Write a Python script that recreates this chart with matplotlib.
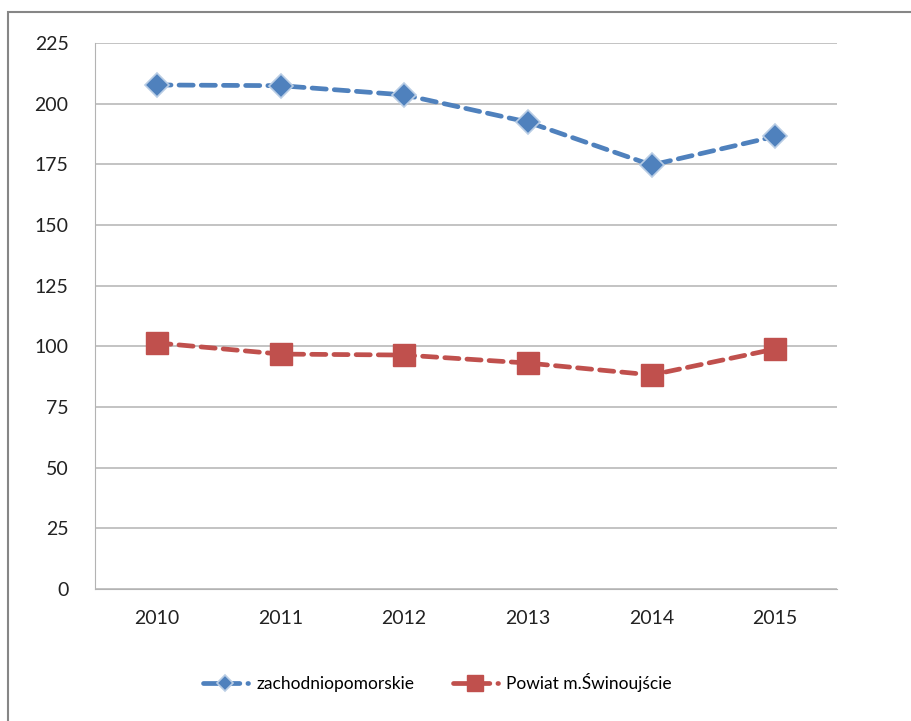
import matplotlib
matplotlib.use('Agg')
import matplotlib.pyplot as plt
from matplotlib.patches import Rectangle

# data
years = ['2010', '2011', '2012', '2013', '2014', '2015']
zachodniopomorskie = [207.7, 207.4, 203.6, 192.4, 174.7, 186.5]
swinoujscie = [101.4, 96.8, 96.4, 93.1, 88.2, 98.9]
y_ticks = [0, 25, 50, 75, 100, 125, 150, 175, 200, 225]

plt.rcParams['font.family'] = ['Lato', 'DejaVu Sans']

fig = plt.figure(figsize=(9.11, 7.21), dpi=100)
ax = fig.add_axes([0.1043, 0.1831, 0.8145, 0.7573])

# outer frame of the chart area
fig.patches.append(Rectangle((8 / 911, -0.1), 1.2, 1 - 12 / 721 + 0.1,
                             transform=fig.transFigure, fill=False,
                             edgecolor='#868686', linewidth=1.5))

x = range(len(years))
ax.plot(x, zachodniopomorskie, color='#4F81BD', linewidth=3.4, linestyle=(0, (3, 1.7)),
        dash_capstyle='round', marker='D', markersize=12, markerfacecolor='#4F81BD',
        markeredgecolor='#B9CDE5', markeredgewidth=1.2, label='zachodniopomorskie')
ax.plot(x, swinoujscie, color='#C0504D', linewidth=3.4, linestyle=(0, (3, 1.7)),
        dash_capstyle='round', marker='s', markersize=16, markerfacecolor='#C0504D',
        markeredgecolor='#C0504D', label='Powiat m.Świnoujście')

ax.set_xlim(-0.5, len(years) - 0.5)
ax.set_ylim(0, 225)
ax.set_xticks(list(x))
ax.set_xticklabels(years)
ax.set_yticks(y_ticks)
ax.tick_params(length=0, labelsize=14, colors='#222222')
ax.tick_params(axis='y', pad=19)
ax.tick_params(axis='x', pad=15)

ax.grid(axis='y', color='#B3B3B3', linewidth=1.1)
ax.set_axisbelow(True)
for side in ['top', 'right']:
    ax.spines[side].set_visible(False)
ax.spines['left'].set_color('#B3B3B3')
ax.spines['bottom'].set_color('#B3B3B3')

fig.legend(loc='center', bbox_to_anchor=(0.48, 1 - 683 / 721), ncol=2, frameon=False,
           fontsize=12.5, handlelength=2.6, columnspacing=2.2, handletextpad=0.5,
           markerscale=0.7)

fig.savefig('out.png', dpi=100)
